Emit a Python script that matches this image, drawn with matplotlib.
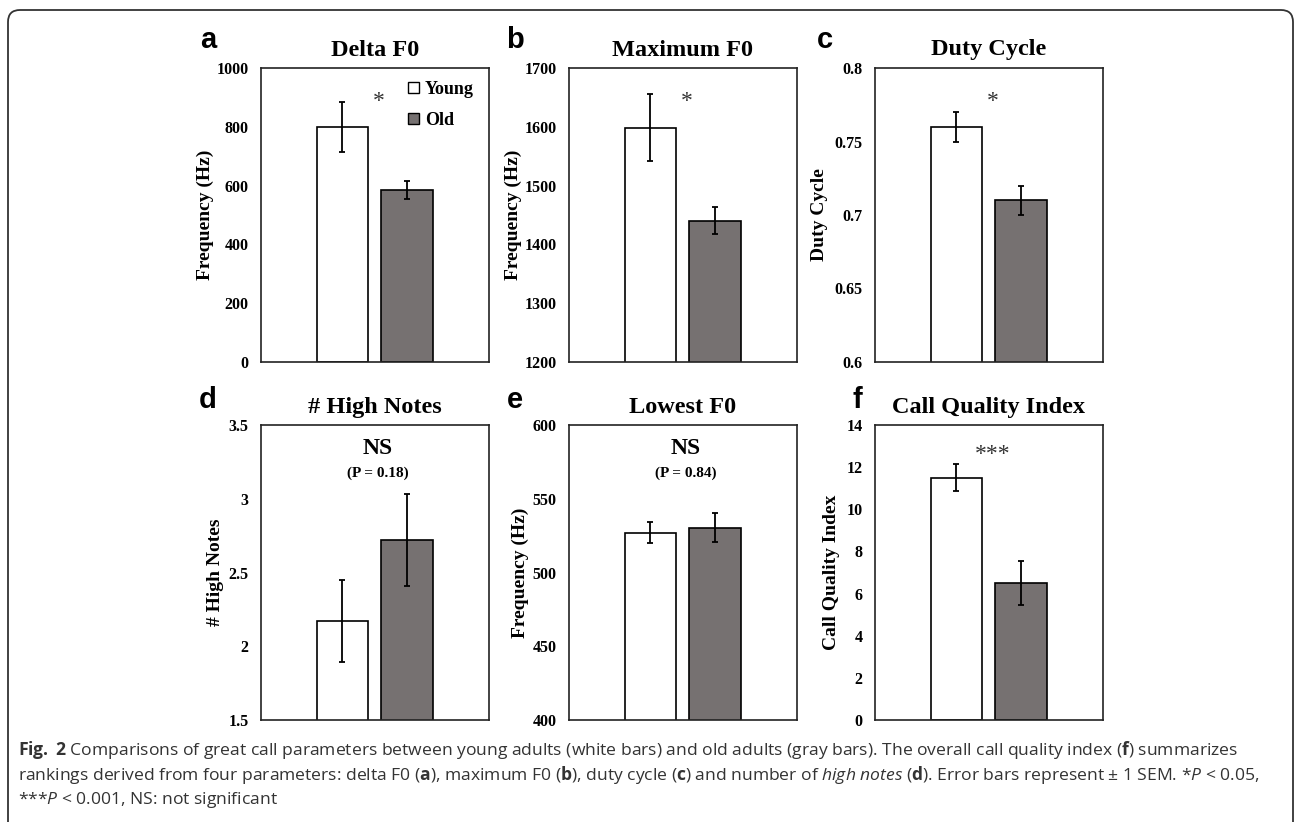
import numpy as np
import matplotlib
matplotlib.use('Agg')
import matplotlib.pyplot as plt
import matplotlib.patches as mpatches
from matplotlib.ticker import FuncFormatter, MultipleLocator

# 数据
groups = ['Young', 'Old']
titles = ['Delta F0', 'Maximum F0', 'Duty Cycle', '# High Notes', 'Lowest F0', 'Call Quality Index']
letters = ['a', 'b', 'c', 'd', 'e', 'f']
ylabels = ['Frequency (Hz)', 'Frequency (Hz)', 'Duty Cycle', '# High Notes', 'Frequency (Hz)', 'Call Quality Index']
young_mean = [800, 1598, 0.76, 2.17, 527, 11.5]
young_sem = [85, 57, 0.01, 0.28, 7, 0.63]
old_mean = [585, 1440, 0.71, 2.72, 530.5, 6.5]
old_sem = [32, 23, 0.01, 0.31, 10, 1.03]
ymin = [0, 1200, 0.6, 1.5, 400, 0]
ymax = [1000, 1700, 0.8, 3.5, 600, 14]
ystep = [200, 100, 0.05, 0.5, 50, 2]
sig_marks = ['*', '*', '*', 'NS', 'NS', '***']
p_texts = ['', '', '', '(P = 0.18)', '(P = 0.84)', '']

W, H = 1295, 822
SERIF = 'Liberation Serif'
plt.rcParams['mathtext.fontset'] = 'custom'
plt.rcParams['mathtext.rm'] = 'Open Sans'
plt.rcParams['mathtext.it'] = 'Open Sans:italic'
plt.rcParams['mathtext.bf'] = 'Open Sans:bold'

fig = plt.figure(figsize=(W / 100, H / 100), dpi=100)

# 外框
frame = mpatches.FancyBboxPatch((0.08, -0.5), 12.85, 8.62,
                                boxstyle='round,pad=0,rounding_size=0.12',
                                transform=fig.dpi_scale_trans, fill=False,
                                edgecolor='#333333', linewidth=1.3)
fig.patches.append(frame)

col_left = [261, 569, 875]
col_w = 228
row_top = [68, 425]
row_h = [294, 295]
label_x = [-0.245, -0.245, -0.245, -0.2, -0.214, -0.19]
letter_pos = [(208, 40), (515, 40), (825, 40), (208, 400), (515, 400), (857, 400)]

for i in range(6):
    r, c = divmod(i, 3)
    l = col_left[c]
    t = row_top[r]
    h = row_h[r]
    ax = fig.add_axes([l / W, 1 - (t + h) / H, col_w / W, h / H])
    x = np.arange(2)
    ax.bar(x, [young_mean[i], old_mean[i]], width=0.8,
           color=['white', '#767171'], edgecolor='black', linewidth=1.2,
           yerr=[young_sem[i], old_sem[i]],
           error_kw=dict(ecolor='black', elinewidth=1.3, capsize=2.5, capthick=1.3))
    ax.set_xlim(-1.26, 2.27)
    ax.set_ylim(ymin[i], ymax[i])
    ax.yaxis.set_major_locator(MultipleLocator(ystep[i]))
    ax.yaxis.set_major_formatter(FuncFormatter(lambda v, p: '{:g}'.format(round(v, 4))))
    ax.set_xticks([])
    ax.tick_params(axis='y', length=0, pad=9)
    for lab in ax.get_yticklabels():
        lab.set_fontfamily(SERIF)
        lab.set_fontweight('bold')
        lab.set_fontsize(11.5)
    for sp in ax.spines.values():
        sp.set_linewidth(1.2)
        sp.set_color('#222222')
    ax.set_title(titles[i], fontfamily=SERIF, fontweight='bold', fontsize=17.5, pad=9)
    ax.text(label_x[i], 0.5, ylabels[i], transform=ax.transAxes, rotation=90,
            ha='center', va='center', fontfamily=SERIF, fontweight='bold', fontsize=14)

    if sig_marks[i] == 'NS':
        ax.text(0.512, 0.92, 'NS', transform=ax.transAxes, ha='center', va='center',
                fontfamily=SERIF, fontweight='bold', fontsize=17)
        ax.text(0.512, 0.835, p_texts[i], transform=ax.transAxes, ha='center', va='center',
                fontfamily=SERIF, fontweight='bold', fontsize=11)
    else:
        sy = 0.885 if sig_marks[i] == '*' else 0.9
        ax.text(0.515, sy, sig_marks[i], transform=ax.transAxes, ha='center', va='center',
                fontfamily=SERIF, fontsize=17, color='#333333')

    if i == 0:
        handles = [mpatches.Patch(facecolor='white', edgecolor='black', linewidth=1.0),
                   mpatches.Patch(facecolor='#767171', edgecolor='black', linewidth=1.0)]
        ax.legend(handles, groups, loc='upper left', bbox_to_anchor=(0.615, 0.98),
                  frameon=False, handlelength=0.6, handleheight=0.6, handletextpad=0.3,
                  labelspacing=0.75, borderaxespad=0,
                  prop=dict(family=SERIF, weight='bold', size=13))

    lx, ly = letter_pos[i]
    fig.text(lx / W, 1 - ly / H, letters[i], ha='center', va='center',
             fontfamily='Liberation Sans', fontweight='bold', fontsize=21)

# 图注
caption = [
    r"$\mathbf{Fig.}$ $\mathbf{2}$ Comparisons of great call parameters between young adults (white bars) and old adults (gray bars). The overall call quality index ($\mathbf{f}$) summarizes",
    r"rankings derived from four parameters: delta F0 ($\mathbf{a}$), maximum F0 ($\mathbf{b}$), duty cycle ($\mathbf{c}$) and number of $\mathit{high}$ $\mathit{notes}$ ($\mathbf{d}$). Error bars represent ± 1 SEM. *$\mathit{P}$ < 0.05,",
    r"***$\mathit{P}$ < 0.001, NS: not significant",
]
for k, line in enumerate(caption):
    fig.text(18 / W, 1 - (750 + 25 * k) / H, line, ha='left', va='center',
             fontfamily='Open Sans', fontsize=12.6, color='#333333')

fig.savefig('out.png', dpi=100)
